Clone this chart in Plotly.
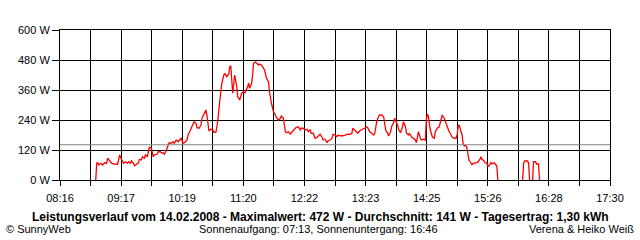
import plotly.graph_objects as go

# ---- data ----
times = [
    "08:52", "08:53", "08:54", "08:55", "08:57", "08:59", "09:01", "09:03", "09:04", "09:06",
    "09:08", "09:11", "09:14", "09:15", "09:16", "09:18", "09:19", "09:20", "09:22", "09:24",
    "09:25", "09:27", "09:28", "09:30", "09:31", "09:33", "09:35", "09:36", "09:38", "09:39",
    "09:41", "09:42", "09:44", "09:45", "09:46", "09:48", "09:50", "09:51", "09:54", "09:55",
    "09:57", "09:59", "10:00", "10:01", "10:03", "10:05", "10:06", "10:08", "10:10", "10:11",
    "10:13", "10:15", "10:17", "10:18", "10:20", "10:22", "10:24", "10:25", "10:27", "10:29",
    "10:31", "10:33", "10:34", "10:36", "10:38", "10:39", "10:41", "10:43", "10:44", "10:45",
    "10:46", "10:48", "10:50", "10:51", "10:53", "10:54", "10:55", "10:57", "10:59", "11:01",
    "11:02", "11:04", "11:06", "11:07", "11:08", "11:10", "11:11", "11:12", "11:14", "11:15",
    "11:17", "11:19", "11:21", "11:22", "11:25", "11:26", "11:27", "11:29", "11:30", "11:31",
    "11:33", "11:36", "11:37", "11:39", "11:42", "11:44", "11:46", "11:47", "11:49", "11:51",
    "11:53", "11:54", "11:56", "11:58", "11:59", "12:01", "12:03", "12:04", "12:06", "12:08",
    "12:09", "12:11", "12:13", "12:14", "12:16", "12:18", "12:19", "12:21", "12:23", "12:25",
    "12:26", "12:28", "12:29", "12:31", "12:33", "12:35", "12:36", "12:38", "12:40", "12:41",
    "12:43", "12:45", "12:46", "12:48", "12:50", "12:51", "12:53", "12:55", "12:56", "12:58",
    "13:01", "13:03", "13:05", "13:06", "13:08", "13:10", "13:11", "13:13", "13:15", "13:16",
    "13:18", "13:20", "13:21", "13:23", "13:25", "13:26", "13:28", "13:30", "13:32", "13:33",
    "13:35", "13:37", "13:38", "13:40", "13:42", "13:43", "13:44", "13:46", "13:47", "13:49",
    "13:50", "13:52", "13:53", "13:54", "13:56", "13:57", "13:59", "14:01", "14:02", "14:04",
    "14:05", "14:07", "14:08", "14:10", "14:12", "14:14", "14:15", "14:17", "14:19", "14:20",
    "14:22", "14:24", "14:25", "14:26", "14:27", "14:28", "14:29", "14:31", "14:33", "14:34",
    "14:36", "14:38", "14:39", "14:41", "14:43", "14:45", "14:46", "14:48", "14:49", "14:51",
    "14:53", "14:55", "14:56", "14:57", "14:58", "14:59", "15:01", "15:02", "15:03", "15:05",
    "15:06", "15:07", "15:08", "15:10", "15:11", "15:12", "15:14", "15:16", "15:17", "15:19",
    "15:20", "15:21", "15:23", "15:24", "15:26", "15:27", "15:28", "15:30", "15:31", "15:33",
    "15:34", "15:36", "15:37", "15:50", "16:02", "16:03", "16:04", "16:07", "16:08", "16:09",
    "16:10", "16:12", "16:13", "16:15", "16:16", "16:18", "16:19",
]
watts = [
    0, 67, 69, 60, 67, 60, 69, 67, 87, 76,
    67, 64, 63, 80, 100, 83, 73, 67, 73, 67,
    73, 67, 77, 67, 57, 64, 69, 83, 80, 93,
    87, 100, 93, 113, 131, 127, 93, 100, 104, 113,
    113, 107, 109, 103, 117, 140, 149, 147, 153, 147,
    160, 153, 160, 167, 147, 151, 160, 180, 196, 213,
    233, 227, 209, 207, 220, 247, 267, 280, 260, 227,
    196, 204, 200, 191, 191, 213, 240, 320, 387, 420,
    427, 413, 424, 453, 457, 347, 387, 420, 373, 333,
    320, 347, 353, 347, 373, 387, 367, 387, 420, 467,
    472, 460, 464, 460, 440, 407, 393, 353, 307, 273,
    260, 250, 240, 247, 256, 247, 193, 189, 193, 183,
    189, 200, 207, 211, 213, 200, 207, 207, 200, 203,
    193, 200, 187, 187, 167, 171, 176, 183, 171, 160,
    163, 149, 157, 160, 167, 183, 180, 173, 180, 177,
    177, 180, 180, 183, 183, 187, 207, 200, 193, 187,
    197, 204, 204, 207, 213, 209, 193, 187, 180, 185,
    233, 256, 260, 260, 253, 227, 200, 187, 176, 193,
    213, 229, 247, 237, 220, 203, 189, 213, 233, 213,
    187, 180, 187, 173, 167, 160, 149, 193, 167, 160,
    163, 160, 240, 264, 256, 213, 200, 173, 167, 193,
    207, 213, 233, 260, 247, 224, 207, 193, 187, 171,
    167, 167, 180, 213, 220, 207, 180, 147, 137, 137,
    127, 100, 80, 67, 60, 67, 67, 69, 73, 83,
    93, 83, 77, 69, 67, 56, 56, 69, 64, 69,
    67, 56, 0, None, 0, 67, 76, 76, 67, 0,
    None, 0, 73, 73, 64, 64, 0,
]
assert len(times) == len(watts)

average_w = 141
y_ticks = [0, 120, 240, 360, 480, 600]
y_labels = ["0 W", "120 W", "240 W", "360 W", "480 W", "600 W"]
x_start, x_end = "08:16", "17:30"
x_labels = ["08:16", "09:17", "10:19", "11:20", "12:22", "13:23", "14:25", "15:26", "16:28", "17:30"]

title_text = ("Leistungsverlauf vom 14.02.2008 - Maximalwert: 472 W - "
              "Durchschnitt: 141 W - Tagesertrag: 1,30 kWh")
left_text = "© SunnyWeb"
mid_text = "Sonnenaufgang: 07:13, Sonnenuntergang: 16:46"
right_text = "Verena & Heiko Weiß"


def to_min(s):
    h, m = s.split(":")
    return int(h) * 60 + int(m)


xs = [to_min(t) for t in times]
x0, x1 = to_min(x_start), to_min(x_end)
n_grid = 2 * (len(x_labels) - 1)
grid_vals = [x0 + i * (x1 - x0) / n_grid for i in range(n_grid + 1)]
grid_text = []
for i in range(n_grid + 1):
    grid_text.append(x_labels[i // 2] if i % 2 == 0 else "")

FONT = "Liberation Sans, Arial, sans-serif"

fig = go.Figure()
fig.add_trace(go.Scatter(
    x=xs, y=watts, mode="lines",
    line=dict(color="#ff0000", width=1.3),
    connectgaps=False, hoverinfo="skip", showlegend=False,
))

fig.add_shape(type="line", xref="paper", yref="y", x0=0, x1=1,
              y0=average_w, y1=average_w,
              line=dict(color="#808080", width=1), layer="above")

fig.update_layout(
    width=640, height=240,
    margin=dict(l=60, r=30, t=30, b=60),
    paper_bgcolor="white", plot_bgcolor="white",
    font=dict(family=FONT, size=11, color="black"),
    showlegend=False,
)
fig.update_xaxes(
    range=[x0, x1], tickmode="array", tickvals=grid_vals, ticktext=grid_text,
    showgrid=True, gridcolor="black", gridwidth=1,
    showline=True, linecolor="black", linewidth=1, mirror=True,
    ticks="outside", ticklen=5, tickcolor="black", tickwidth=1,
    zeroline=False, ticklabelstandoff=3,
    tickfont=dict(family=FONT, size=11, color="black"),
)
fig.update_yaxes(
    range=[0, 600], tickmode="array", tickvals=y_ticks, ticktext=y_labels,
    showgrid=True, gridcolor="black", gridwidth=1,
    showline=True, linecolor="black", linewidth=1, mirror=True,
    ticks="outside", ticklen=7, tickcolor="black", tickwidth=1,
    zeroline=False,
    tickfont=dict(family=FONT, size=11, color="black"),
)

def px_x(px):
    return (px - 60) / 550.0

def px_y(py):
    return (180 - py) / 150.0

fig.add_annotation(text="<b>" + title_text + "</b>", xref="paper", yref="paper",
                   x=px_x(320), y=px_y(217), xanchor="center", yanchor="middle",
                   showarrow=False, font=dict(family=FONT, size=12, color="black"))
fig.add_annotation(text=left_text, xref="paper", yref="paper",
                   x=px_x(4), y=px_y(229), xanchor="left", yanchor="middle",
                   showarrow=False, font=dict(family=FONT, size=11, color="black"))
fig.add_annotation(text=mid_text, xref="paper", yref="paper",
                   x=px_x(318), y=px_y(229), xanchor="center", yanchor="middle",
                   showarrow=False, font=dict(family=FONT, size=11, color="black"))
fig.add_annotation(text=right_text, xref="paper", yref="paper",
                   x=px_x(636), y=px_y(229), xanchor="right", yanchor="middle",
                   showarrow=False, font=dict(family=FONT, size=11, color="black"))

fig.write_html("out.html")
